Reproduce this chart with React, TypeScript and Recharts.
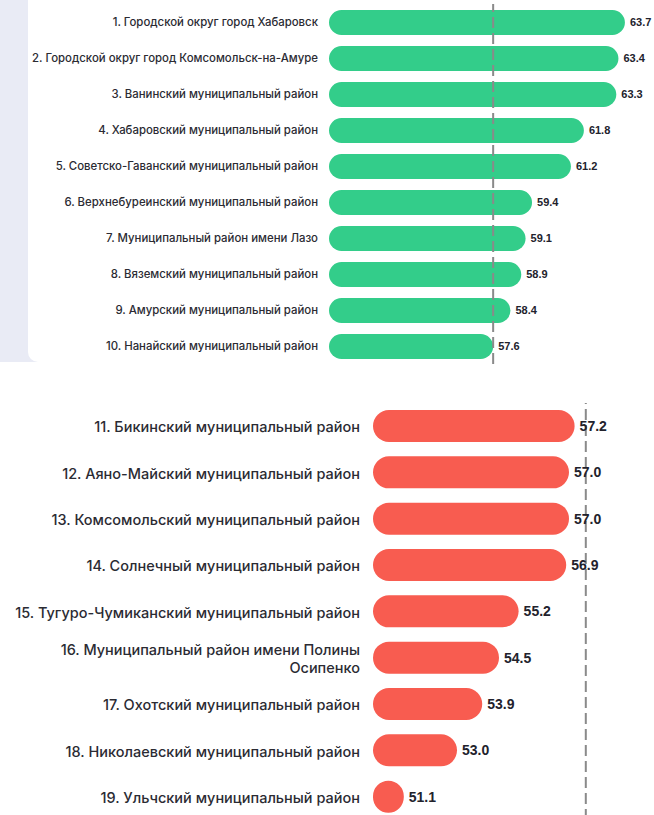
import React from "react";
import {
  BarChart,
  Bar,
  XAxis,
  YAxis,
  ReferenceLine,
  LabelList,
} from "recharts";

const leaders = [
  "1. Городской округ город Хабаровск",
  "2. Городской округ город Комсомольск-на-Амуре",
  "3. Ванинский муниципальный район",
  "4. Хабаровский муниципальный район",
  "5. Советско-Гаванский муниципальный район",
  "6. Верхнебуреинский муниципальный район",
  "7. Муниципальный район имени Лазо",
  "8. Вяземский муниципальный район",
  "9. Амурский муниципальный район",
  "10. Нанайский муниципальный район",
];
const leaderValues = [63.7, 63.4, 63.3, 61.8, 61.2, 59.4, 59.1, 58.9, 58.4, 57.6];

const outsiders = [
  "11. Бикинский муниципальный район",
  "12. Аяно-Майский муниципальный район",
  "13. Комсомольский муниципальный район",
  "14. Солнечный муниципальный район",
  "15. Тугуро-Чумиканский муниципальный район",
  "16. Муниципальный район имени Полины Осипенко",
  "17. Охотский муниципальный район",
  "18. Николаевский муниципальный район",
  "19. Ульчский муниципальный район",
];
const outsiderValues = [57.2, 57.0, 57.0, 56.9, 55.2, 54.5, 53.9, 53.0, 51.1];

const average = 57.6;

const topData = leaders.map((name, i) => ({ name, value: leaderValues[i] }));
const bottomData = outsiders.map((name, i) => ({ name, value: outsiderValues[i] }));

const labelFont = "Inter, 'Noto Sans', sans-serif";
const valueFont = "'Liberation Sans', Arial, sans-serif";

// split long labels into lines by character count
function splitLines(text: string, maxChars: number) {
  if (text.length <= maxChars) return [text];
  const lines: string[] = [];
  let cur = "";
  for (const w of text.split(" ")) {
    const next = cur ? cur + " " + w : w;
    if (next.length > maxChars && cur) {
      lines.push(cur);
      cur = w;
    } else cur = next;
  }
  if (cur) lines.push(cur);
  return lines;
}

function WrapTick(props: any) {
  const { x, y, payload, fontSize, maxChars } = props;
  const lines = splitLines(String(payload.value), maxChars);
  const lh = fontSize * 1.2;
  const startDy = -((lines.length - 1) * lh) / 2;
  return (
    <text
      x={x}
      y={y}
      textAnchor="end"
      dominantBaseline="central"
      fontSize={fontSize}
      fontFamily={labelFont}
      fontWeight={500}
      fill="#2b2b33"
    >
      {lines.map((l, i) => (
        <tspan key={i} x={x} dy={i === 0 ? startDy : lh}>
          {l}
        </tspan>
      ))}
    </text>
  );
}

const fmt = (v: any) => Number(v).toFixed(1);

export default function App() {
  return (
    <div
      style={{
        position: "absolute",
        left: 0,
        top: 0,
        width: 654,
        height: 815,
        overflow: "hidden",
        background: "#fff",
      }}
    >
      <div style={{ position: "absolute", left: 0, top: 0, width: 654, height: 362, background: "#E9EBF5" }} />
      <div
        style={{
          position: "absolute",
          left: 28,
          top: 0,
          width: 626,
          height: 362,
          background: "#fff",
          borderBottomLeftRadius: 10,
        }}
      />

      <div style={{ position: "absolute", left: 0, top: 0 }}>
        <BarChart
          width={654}
          height={364}
          data={topData}
          layout="vertical"
          margin={{ top: 4, right: 1, bottom: 0, left: 0 }}
        >
          <XAxis type="number" domain={[50, 65]} hide allowDataOverflow />
          <YAxis
            type="category"
            dataKey="name"
            width={329}
            axisLine={false}
            tickLine={false}
            tickSize={0}
            tickMargin={11}
            interval={0}
            tick={<WrapTick fontSize={11.4} maxChars={60} />}
          />
          <Bar dataKey="value" fill="#33CD8A" barSize={25} radius={12.5} isAnimationActive={false}>
            <LabelList
              dataKey="value"
              position="right"
              offset={5}
              formatter={fmt}
              fontSize={11}
              fontFamily={valueFont}
              fontWeight={700}
              fill="#22222c"
            />
          </Bar>
          <ReferenceLine x={average} stroke="#8a8a8a" strokeWidth={2} strokeDasharray="11 5" />
        </BarChart>
      </div>

      <div style={{ position: "absolute", left: 0, top: 400 }}>
        <BarChart
          width={654}
          height={420}
          data={bottomData}
          layout="vertical"
          margin={{ top: 3, right: 1, bottom: 0, left: 0 }}
        >
          <XAxis type="number" domain={[50, 60]} hide allowDataOverflow />
          <YAxis
            type="category"
            dataKey="name"
            width={373}
            axisLine={false}
            tickLine={false}
            tickSize={0}
            tickMargin={13}
            interval={0}
            tick={<WrapTick fontSize={14.5} maxChars={43} />}
          />
          <Bar dataKey="value" fill="#F85C50" barSize={32} radius={16} isAnimationActive={false}>
            <LabelList
              dataKey="value"
              position="right"
              offset={5}
              formatter={fmt}
              fontSize={14}
              fontFamily={valueFont}
              fontWeight={700}
              fill="#22222c"
            />
          </Bar>
          <ReferenceLine x={average} stroke="#8a8a8a" strokeWidth={2} strokeDasharray="11 5" />
        </BarChart>
      </div>
    </div>
  );
}
